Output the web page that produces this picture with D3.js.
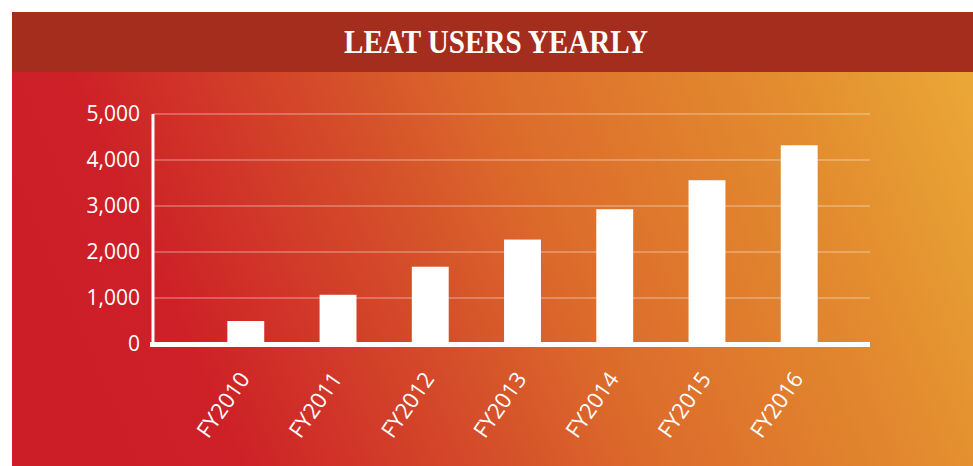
<!DOCTYPE html>
<html>
<head>
<meta charset="utf-8">
<script src="https://cdn.jsdelivr.net/npm/d3@7"></script>
<style>
  body { margin: 0; background: #fff; }
  svg { display: block; }
</style>
</head>
<body>
<div class="chart"></div>
<script>
const years = ["FY2010", "FY2011", "FY2012", "FY2013", "FY2014", "FY2015", "FY2016"];
const users = [500, 1070, 1680, 2270, 2930, 3560, 4320];
const yTicks = [0, 1000, 2000, 3000, 4000, 5000];
const title = "LEAT USERS YEARLY";

const W = 973, H = 466;

const svg = d3.select(".chart")
    .append("svg")
    .attr("width", W)
    .attr("height", H);

// background gradient, red bottom-left to orange top-right
const grad = svg.append("defs").append("linearGradient")
    .attr("id", "bg")
    .attr("gradientUnits", "userSpaceOnUse")
    .attr("x1", 100).attr("y1", 430)
    .attr("x2", 960).attr("y2", 60);
[[0, "#cc1e27"], [0.12, "#cd2027"], [0.39, "#d5512a"], [0.52, "#dc6a2b"], [0.82, "#e38d2f"], [1, "#eaa736"]]
    .forEach(s => grad.append("stop").attr("offset", s[0]).attr("stop-color", s[1]));

svg.append("rect")
    .attr("x", 12).attr("y", 72)
    .attr("width", W - 12).attr("height", H - 72)
    .attr("fill", "url(#bg)");

svg.append("rect")
    .attr("x", 12).attr("y", 12)
    .attr("width", W - 12).attr("height", 60)
    .attr("fill", "#a52d1e");

svg.append("text")
    .attr("x", 496).attr("y", 53)
    .attr("text-anchor", "middle")
    .attr("fill", "#fff")
    .style("font-family", "'Liberation Serif', serif")
    .style("font-weight", "bold")
    .style("font-size", "33px")
    .attr("textLength", 304)
    .attr("lengthAdjust", "spacingAndGlyphs")
    .text(title);

const xScale = d3.scaleBand().domain(years).range([172, 873]).padding(0.6);
const yScale = d3.scaleLinear().domain([0, 5000]).range([344, 114]);

// gridlines
svg.append("g")
    .selectAll("line")
    .data(yTicks.slice(1))
    .enter()
    .append("line")
    .attr("x1", 153).attr("x2", 870)
    .attr("y1", d => yScale(d)).attr("y2", d => yScale(d))
    .attr("stroke", "#fff")
    .attr("stroke-opacity", 0.25)
    .attr("stroke-width", 2);

svg.selectAll(".bar")
    .data(users)
    .enter()
    .append("rect")
    .attr("class", "bar")
    .attr("x", (d, i) => xScale(years[i]))
    .attr("y", d => yScale(d))
    .attr("width", xScale.bandwidth())
    .attr("height", d => yScale(0) - yScale(d))
    .attr("fill", "#fff");

const yAxis = d3.axisLeft(yScale)
    .tickValues(yTicks)
    .tickSize(0)
    .tickPadding(13)
    .tickFormat(d3.format(","));

const gy = svg.append("g")
    .attr("class", "y-axis")
    .attr("transform", "translate(153,0)")
    .call(yAxis);
gy.select(".domain").remove();
gy.selectAll("text")
    .attr("fill", "#fff")
    .style("font-family", "'Open Sans', sans-serif")
    .style("font-size", "21px");

svg.append("line")
    .attr("x1", 153).attr("x2", 153)
    .attr("y1", 114).attr("y2", 346)
    .attr("stroke", "#fff")
    .attr("stroke-width", 3);

svg.append("line")
    .attr("x1", 150).attr("x2", 870)
    .attr("y1", 344.5).attr("y2", 344.5)
    .attr("stroke", "#fff")
    .attr("stroke-width", 5);

// rotated year labels
const xAxis = d3.axisBottom(xScale).tickSize(0).tickPadding(0);
const gx = svg.append("g")
    .attr("class", "x-axis")
    .attr("transform", "translate(5,379)")
    .call(xAxis);
gx.select(".domain").remove();
gx.selectAll("text")
    .attr("y", 0)
    .attr("dy", 0)
    .attr("x", 0)
    .attr("transform", "rotate(-55)")
    .attr("text-anchor", "end")
    .attr("fill", "#fff")
    .style("font-family", "'Open Sans', sans-serif")
    .style("font-size", "22px");
</script>
</body>
</html>
